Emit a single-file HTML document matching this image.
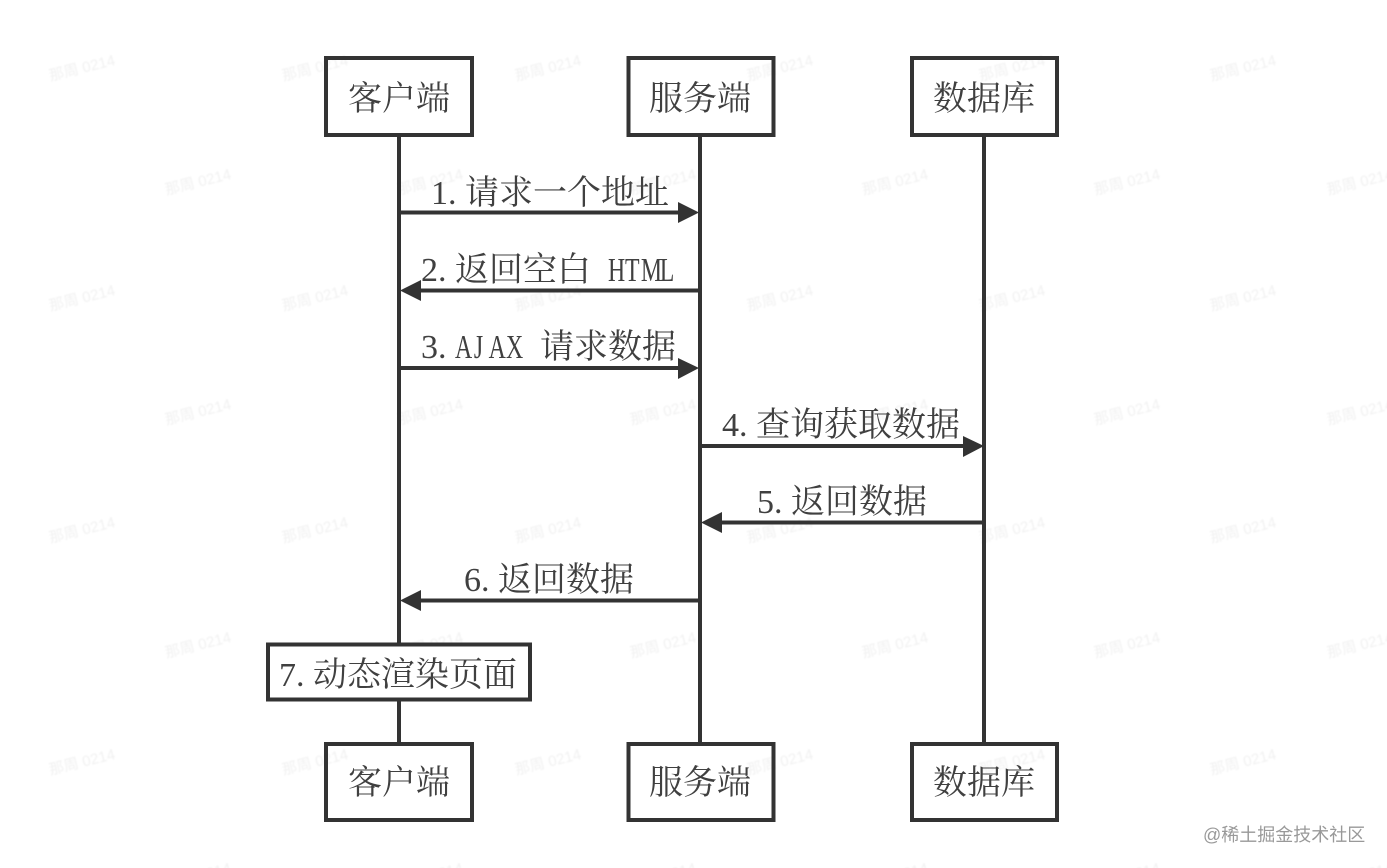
<!DOCTYPE html>
<html><head><meta charset="utf-8">
<style>
html,body{margin:0;padding:0;background:#fff;width:1387px;height:868px;overflow:hidden}
svg{display:block}
.wm{font-family:"Liberation Sans","Noto Sans CJK SC",sans-serif;font-size:15px;fill:#f1f1f1}
.t{font-family:"Liberation Serif","Noto Serif CJK SC",serif;font-size:34px;fill:#404040}
</style></head><body>
<svg width="1387" height="868" viewBox="0 0 1387 868" xmlns="http://www.w3.org/2000/svg">
<defs>
<filter id="b" x="-5%" y="-5%" width="110%" height="110%"><feGaussianBlur stdDeviation="0.7"/></filter>
<text id="w" x="0" y="5" text-anchor="middle" transform="rotate(-14)">那周 0214</text>
</defs>
<g class="wm" filter="url(#b)">
<use href="#w" transform="translate(82 68)"/><use href="#w" transform="translate(315 68)"/><use href="#w" transform="translate(548 68)"/><use href="#w" transform="translate(780 68)"/><use href="#w" transform="translate(1012 68)"/><use href="#w" transform="translate(1243 68)"/>
<use href="#w" transform="translate(198 182)"/><use href="#w" transform="translate(430 182)"/><use href="#w" transform="translate(663 182)"/><use href="#w" transform="translate(895 182)"/><use href="#w" transform="translate(1127 182)"/><use href="#w" transform="translate(1360 182)"/>
<use href="#w" transform="translate(82 298)"/><use href="#w" transform="translate(315 298)"/><use href="#w" transform="translate(548 298)"/><use href="#w" transform="translate(780 298)"/><use href="#w" transform="translate(1012 298)"/><use href="#w" transform="translate(1243 298)"/>
<use href="#w" transform="translate(198 412)"/><use href="#w" transform="translate(430 412)"/><use href="#w" transform="translate(663 412)"/><use href="#w" transform="translate(895 412)"/><use href="#w" transform="translate(1127 412)"/><use href="#w" transform="translate(1360 412)"/>
<use href="#w" transform="translate(82 530)"/><use href="#w" transform="translate(315 530)"/><use href="#w" transform="translate(548 530)"/><use href="#w" transform="translate(780 530)"/><use href="#w" transform="translate(1012 530)"/><use href="#w" transform="translate(1243 530)"/>
<use href="#w" transform="translate(198 645)"/><use href="#w" transform="translate(430 645)"/><use href="#w" transform="translate(663 645)"/><use href="#w" transform="translate(895 645)"/><use href="#w" transform="translate(1127 645)"/><use href="#w" transform="translate(1360 645)"/>
<use href="#w" transform="translate(82 762)"/><use href="#w" transform="translate(315 762)"/><use href="#w" transform="translate(548 762)"/><use href="#w" transform="translate(780 762)"/><use href="#w" transform="translate(1012 762)"/><use href="#w" transform="translate(1243 762)"/>
<use href="#w" transform="translate(198 876)"/><use href="#w" transform="translate(430 876)"/><use href="#w" transform="translate(663 876)"/><use href="#w" transform="translate(895 876)"/><use href="#w" transform="translate(1127 876)"/><use href="#w" transform="translate(1360 876)"/>
</g>
<g stroke="#333" stroke-width="4" fill="none">
<path d="M399 136V742M700 136V742M984 136V742"/>
<path d="M399 212.500H680M700 290.500H418M399 368H680M700 446H965M984 522.500H719M700 600.500H418"/>
<rect x="326" y="58" width="146" height="77"/>
<rect x="628.500" y="58" width="145" height="77"/>
<rect x="912" y="58" width="145" height="77"/>
<rect x="326" y="744" width="146" height="76"/>
<rect x="628.500" y="744" width="145" height="76"/>
<rect x="912" y="744" width="145" height="76"/>
<rect x="268" y="644.500" width="262" height="55" fill="#fff"/>
</g>
<g fill="#333">
<path d="M699 212.500L678 202V223Z"/>
<path d="M400 290.500L421 280V301Z"/>
<path d="M699 368L678 358V379Z"/>
<path d="M984 446L963 436V457Z"/>
<path d="M701 522.500L722 512V533Z"/>
<path d="M400 600.500L421 590V611Z"/>
</g>
<g class="t">
<text x="348 382 416" y="110">客户端</text>
<text x="649 683 717" y="110">服务端</text>
<text x="933 967 1001" y="110">数据库</text>
<text x="348 382 416" y="794">客户端</text>
<text x="649 683 717" y="794">服务端</text>
<text x="933 967 1001" y="794">数据库</text>

<text y="204" x="431 448 465 499 533 567 601 635">1.请求一个地址</text>
<text y="281" x="421 438 455 489 523 557">2.返回空白</text>
<text transform="translate(608 281) scale(.7 1)" x="0 24.300 47 74">HTML</text>
<text y="358" x="421 438">3.</text>
<text transform="translate(455 358) scale(.7 1)" x="0 27 48 72.900">AJAX</text>
<text y="358" x="540 574 608 642">请求数据</text>
<text y="436" x="722 739 756 790 824 858 892 926">4.查询获取数据</text>
<text y="513" x="757 774 791 825 859 893">5.返回数据</text>
<text y="591" x="464 481 498 532 566 600">6.返回数据</text>
<text y="686" x="279 296 313 347 381 415 449 483">7.动态渲染页面</text>
</g>
<text x="1203" y="841" font-family="'Liberation Sans','Noto Sans CJK SC',sans-serif" font-size="18" fill="#999">@稀土掘金技术社区</text>
</svg>
</body></html>
